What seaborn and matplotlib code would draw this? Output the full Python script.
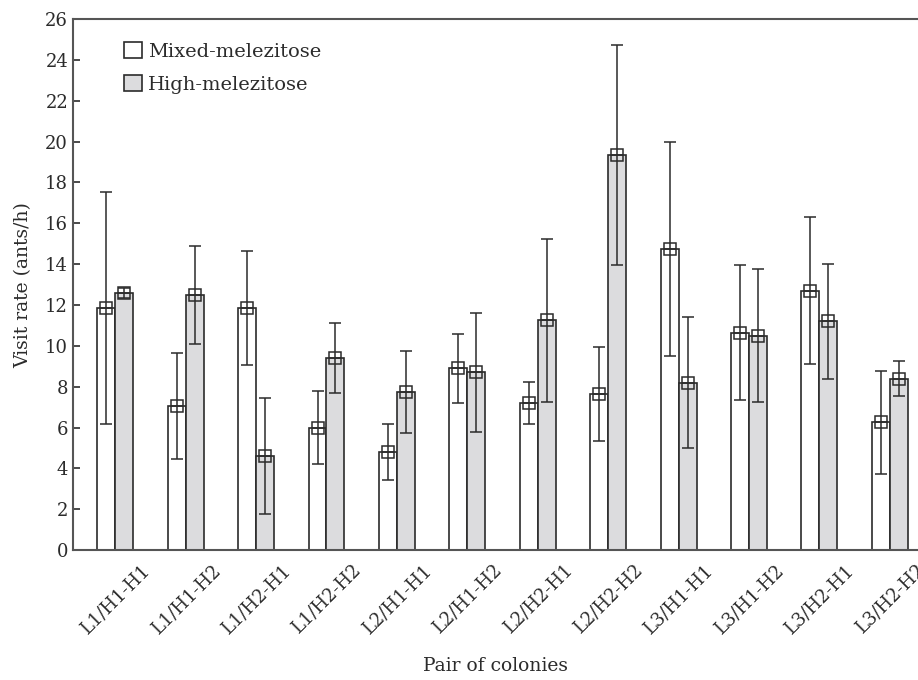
import matplotlib
matplotlib.use('Agg')
import matplotlib.pyplot as plt
from matplotlib.patches import Patch
import seaborn as sns
import pandas as pd

# valores
pairs = ['L1/H1-H1', 'L1/H1-H2', 'L1/H2-H1', 'L1/H2-H2', 'L2/H1-H1', 'L2/H1-H2',
         'L2/H2-H1', 'L2/H2-H2', 'L3/H1-H1', 'L3/H1-H2', 'L3/H2-H1', 'L3/H2-H2']
series = ['Mixed-melezitose', 'High-melezitose']
mixed_mean = [11.85, 7.05, 11.85, 6.0, 4.8, 8.9, 7.2, 7.65, 14.75, 10.65, 12.7, 6.25]
mixed_err = [5.7, 2.6, 2.8, 1.8, 1.35, 1.7, 1.05, 2.3, 5.25, 3.3, 3.6, 2.5]
high_mean = [12.6, 12.5, 4.6, 9.4, 7.75, 8.7, 11.25, 19.35, 8.2, 10.5, 11.2, 8.4]
high_err = [0.25, 2.4, 2.85, 1.7, 2.0, 2.9, 4.0, 5.4, 3.2, 3.25, 2.8, 0.85]
y_ticks = list(range(0, 27, 2))

df = pd.DataFrame({
    'pair': pairs * 2,
    'serie': [series[0]] * len(pairs) + [series[1]] * len(pairs),
    'rate': mixed_mean + high_mean,
    'err': mixed_err + high_err,
})

sns.set_style('white')
plt.rcParams['font.family'] = ['DejaVu Serif']
ink = '#2b2b2b'
gray = '#dcdcde'

fig = plt.figure(figsize=(9.18, 6.8), dpi=100)
ax = fig.add_axes([0.0795, 0.191, 0.9205, 0.781])

sns.barplot(data=df, x='pair', y='rate', hue='serie', order=pairs, hue_order=series,
            palette=['white', gray], width=0.51, gap=0, errorbar=None,
            edgecolor=ink, linewidth=1.2, legend=False, ax=ax)

# barras de erro + marcador quadrado com cruz no topo
bars = [p for p in ax.patches]
for p, (_, row) in zip(bars, df.iterrows()):
    xc = p.get_x() + p.get_width() / 2
    ax.errorbar(xc, row['rate'], yerr=row['err'], fmt='none', ecolor=ink,
                elinewidth=1.1, capsize=4.5, capthick=1.1, zorder=4)
    ax.plot(xc, row['rate'], marker='s', ms=8.5, mfc='none', mec=ink, mew=1.1, zorder=5)
    ax.plot(xc, row['rate'], marker='_', ms=8.5, mec=ink, mew=1.1, zorder=5)

ax.set_ylim(0, 26)
ax.set_xlim(-0.6, 11.4)
ax.set_yticks(y_ticks)
ax.tick_params(axis='y', direction='in', length=5, width=1.2, color=ink,
               labelsize=13, labelcolor=ink, left=True)
ax.tick_params(axis='x', length=0, labelsize=13, labelcolor=ink, pad=8)
plt.setp(ax.get_xticklabels(), rotation=45, ha='center')

for s in ['left', 'bottom', 'top']:
    ax.spines[s].set_color('#555555')
    ax.spines[s].set_linewidth(1.5)
ax.spines['right'].set_visible(False)

ax.set_ylabel('Visit rate (ants/h)', fontsize=13.5, color=ink, labelpad=9)
ax.set_xlabel('Pair of colonies', fontsize=13.5, color=ink, labelpad=14)

handles = [Patch(facecolor='white', edgecolor=ink, linewidth=1.2),
           Patch(facecolor=gray, edgecolor=ink, linewidth=1.2)]
ax.legend(handles, series, loc='upper left', bbox_to_anchor=(0.04, 0.99), frameon=False,
          fontsize=14, handlelength=0.9, handleheight=0.9, handletextpad=0.3,
          labelspacing=0.75, labelcolor=ink)

fig.savefig('out.png', dpi=100)
